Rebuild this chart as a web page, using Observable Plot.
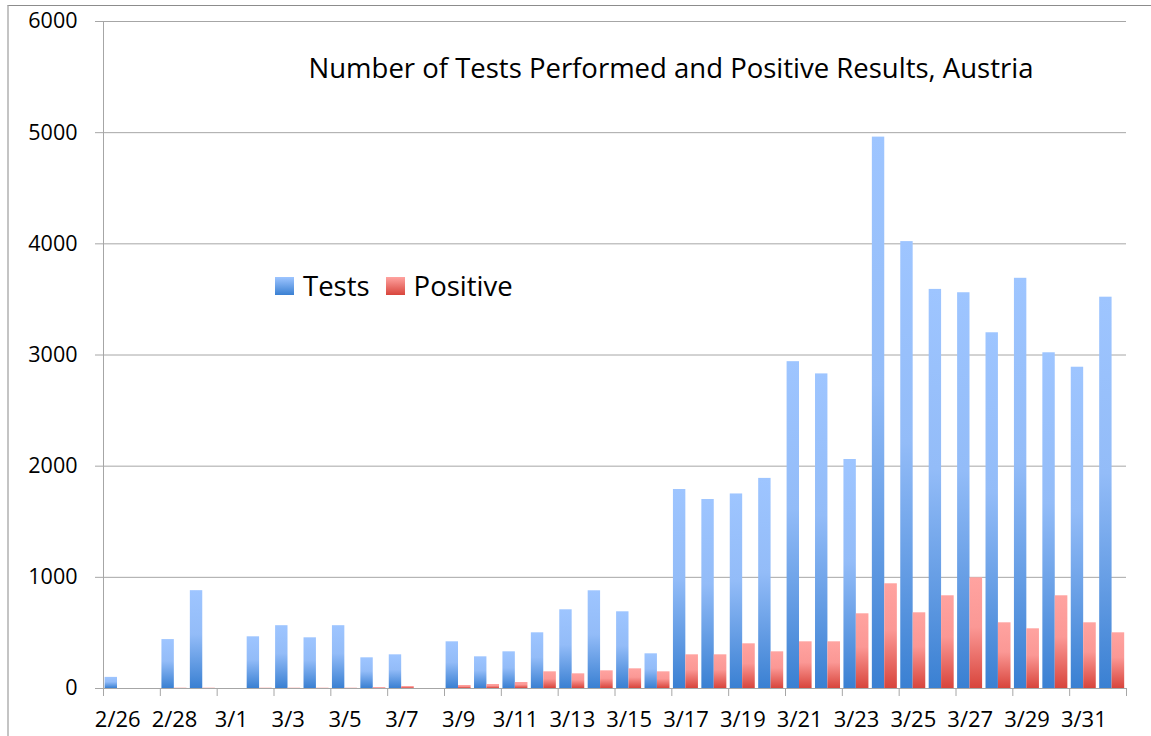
<!DOCTYPE html>
<html>
<head>
<meta charset="utf-8">
<script src="https://cdn.jsdelivr.net/npm/d3@7"></script>
<script src="https://cdn.jsdelivr.net/npm/@observablehq/plot@0.6"></script>
<style>
  html, body { margin: 0; padding: 0; background: #fff; overflow: hidden; }
  #wrap { position: relative; width: 1151px; height: 736px; font-family: "Open Sans", sans-serif; color: #000; }
  #border { position: absolute; left: 7px; top: 5px; width: 1300px; height: 900px; border-top: 1px solid #8c8c8c; border-left: 2px solid #c4c4c4; }
  #chart { position: absolute; left: 0; top: 0; }
  #title { position: absolute; top: 49px; left: 671px; transform: translateX(-50%); white-space: nowrap; font-size: 27.5px; }
  #legend { position: absolute; top: 267px; left: 275px; font-size: 27.5px; white-space: nowrap; display: flex; align-items: center; }
  .sw { display: inline-block; width: 19px; height: 18px; margin-right: 9px; }
  .item { display: inline-flex; align-items: center; margin-right: 16px; }
</style>
</head>
<body>
<div id="wrap">
  <div id="border"></div>
  <div id="chart"></div>
  <div id="title"></div>
  <div id="legend"></div>
</div>
<script>
// ---- data ----
const dates = ["2/26","2/27","2/28","2/29","3/1","3/2","3/3","3/4","3/5","3/6","3/7","3/8",
  "3/9","3/10","3/11","3/12","3/13","3/14","3/15","3/16","3/17","3/18","3/19","3/20",
  "3/21","3/22","3/23","3/24","3/25","3/26","3/27","3/28","3/29","3/30","3/31","4/1"];
const tests = [100,0,440,880,0,465,565,456,565,276,303,0,
  420,285,330,501,708,879,690,312,1790,1700,1750,1890,
  2940,2830,2060,4960,4020,3590,3560,3200,3690,3020,2890,3520];
const positive = [0,0,3,3,0,3,3,3,3,8,18,0,
  27,36,54,150,132,159,177,150,303,303,402,330,
  420,420,672,942,681,834,996,591,537,834,591,501];
const yTicks = [0,1000,2000,3000,4000,5000,6000];
const labelDates = dates.filter((d, i) => i % 2 === 0);
const lastDate = [dates[dates.length - 1]];
const seriesNames = ["Tests", "Positive"];
const titleText = "Number of Tests Performed and Positive Results, Austria";

const rows = dates.map((d, i) => ({date: d, tests: tests[i], positive: positive[i]}));

// ---- layout ----
const W = 1151, H = 736;
const mL = 103, mR = 25, mT = 21, mB = 48;
const bw = (W - mL - mR) / dates.length;

const grid = "#a6a6a6";

const plot = Plot.plot({
  width: W, height: H,
  marginLeft: mL, marginRight: mR, marginTop: mT, marginBottom: mB,
  style: {fontFamily: "'Open Sans', sans-serif", color: "#000", background: "transparent", overflow: "visible"},
  x: {type: "band", domain: dates, padding: 0, round: false},
  y: {domain: [0, 6000]},
  marks: [
    Plot.ruleY(yTicks, {stroke: grid, strokeWidth: 1, insetLeft: -8}),
    Plot.ruleX([dates[0]], {stroke: grid, strokeWidth: 1, dx: -bw / 2}),
    Plot.barY(rows, {x: "date", y: "tests", fill: "url(#gTests)", insetLeft: 1.6, insetRight: bw - 14.0}),
    Plot.barY(rows, {x: "date", y: "positive", fill: "url(#gPos)", insetLeft: 14.0, insetRight: bw - 26.6}),
    Plot.axisY({ticks: yTicks, tickSize: 0, tickPadding: 26, fontSize: 21.5, tickFormat: d => String(d), label: null}),
    Plot.axisX({ticks: labelDates, tickSize: 8, tickFormat: () => "", dx: -bw / 2, stroke: grid, label: null}),
    Plot.axisX({ticks: lastDate, tickSize: 8, tickFormat: () => "", dx: bw / 2, stroke: grid, label: null}),
    Plot.axisX({ticks: labelDates, tickSize: 0, tickPadding: 23, fontSize: 22, label: null}),
    Plot.ruleY([0], {stroke: grid, strokeWidth: 1})
  ]
});

// gradients (per-bar, top light to bottom dark)
const ns = "http://www.w3.org/2000/svg";
const defs = document.createElementNS(ns, "defs");
function grad(id, stops) {
  const g = document.createElementNS(ns, "linearGradient");
  g.setAttribute("id", id);
  g.setAttribute("x1", "0"); g.setAttribute("y1", "0");
  g.setAttribute("x2", "0"); g.setAttribute("y2", "1");
  stops.forEach(([o, c]) => {
    const s = document.createElementNS(ns, "stop");
    s.setAttribute("offset", o); s.setAttribute("stop-color", c);
    g.appendChild(s);
  });
  defs.appendChild(g);
}
grad("gTests", [["0", "#9ec5ff"], ["0.45", "#93bcf8"], ["1", "#3a80d2"]]);
grad("gPos", [["0", "#ffa3a0"], ["0.45", "#fb9895"], ["1", "#d8453c"]]);
plot.insertBefore(defs, plot.firstChild);

document.getElementById("chart").appendChild(plot);

// title
document.getElementById("title").textContent = titleText;

// legend
const legend = document.getElementById("legend");
const swatchCss = {
  Tests: "linear-gradient(#9ec5ff, #3a80d2)",
  Positive: "linear-gradient(#ffa3a0, #d8453c)"
};
seriesNames.forEach(name => {
  const item = document.createElement("span");
  item.className = "item";
  const sw = document.createElement("span");
  sw.className = "sw";
  sw.style.background = swatchCss[name];
  const t = document.createElement("span");
  t.textContent = name;
  item.appendChild(sw); item.appendChild(t);
  legend.appendChild(item);
});
</script>
</body>
</html>
